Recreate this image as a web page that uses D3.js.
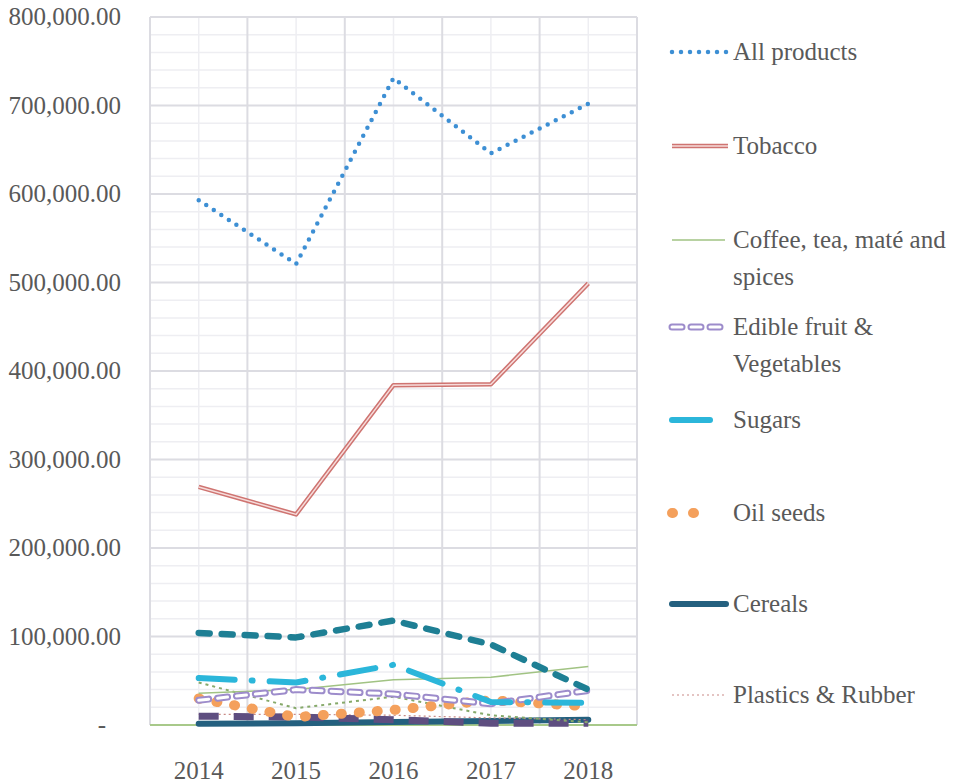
<!DOCTYPE html>
<html>
<head>
<meta charset="utf-8">
<script src="https://cdn.jsdelivr.net/npm/d3@7"></script>
<style>
  body { margin: 0; background: #fff; }
</style>
</head>
<body>
<svg width="964" height="784"></svg>
<script>
// values
const years = ["2014", "2015", "2016", "2017", "2018"];
const yTicks = [0, 100000, 200000, 300000, 400000, 500000, 600000, 700000, 800000];

const allProducts = [593000, 521000, 731000, 646000, 702000];
const tobacco = [269000, 238000, 384000, 385000, 499000];
const coffee = [36000, 40000, 51000, 54000, 66000];
const edibleFruit = [28000, 40000, 35000, 24000, 39000];
const sugars = [53000, 48000, 68000, 26000, 25000];
const oilSeeds = [30000, 9000, 17000, 28000, 21000];
const cereals = [1500, 2000, 3500, 4500, 6000];
const plastics = [12000, 12000, 11000, 8000, 6000];
// series without a visible legend entry
const tealDashed = [104000, 99000, 118000, 91000, 40000];
const greenDotted = [48000, 19000, 32000, 11000, 3000];
const purpleDashed = [10000, 9000, 6000, 2000, 2000];

const FONT = '"Liberation Serif"';
const svg = d3.select("svg");
const pLeft = 150, pRight = 637, pTop = 17, pBottom = 725;

const x = d3.scaleBand().domain(years).range([pLeft, pRight]);
const xc = d => x(d) + x.bandwidth() / 2;
const y = d3.scaleLinear().domain([0, 800000]).range([pBottom, pTop]);

// minor grid
const minor = d3.range(0, 800001, 20000).filter(v => v % 100000 !== 0);
svg.append("g").selectAll("line").data(minor).enter().append("line")
  .attr("x1", pLeft).attr("x2", pRight)
  .attr("y1", d => y(d)).attr("y2", d => y(d))
  .attr("stroke", "#eeeef2").attr("stroke-width", 1.5);
svg.append("g").selectAll("line").data(years).enter().append("line")
  .attr("x1", xc).attr("x2", xc)
  .attr("y1", pTop).attr("y2", pBottom)
  .attr("stroke", "#eeeef2").attr("stroke-width", 1.5);

// major grid
svg.append("g").selectAll("line").data(yTicks.slice(1)).enter().append("line")
  .attr("x1", pLeft).attr("x2", pRight)
  .attr("y1", d => y(d)).attr("y2", d => y(d))
  .attr("stroke", "#dcdce2").attr("stroke-width", 2);
svg.append("g").selectAll("line").data(years.concat(["end"])).enter().append("line")
  .attr("x1", (d, i) => pLeft + i * x.bandwidth()).attr("x2", (d, i) => pLeft + i * x.bandwidth())
  .attr("y1", pTop).attr("y2", pBottom)
  .attr("stroke", "#dcdce2").attr("stroke-width", 2);

// baseline
svg.append("line")
  .attr("x1", pLeft).attr("x2", pRight).attr("y1", pBottom).attr("y2", pBottom)
  .attr("stroke", "#a8c98a").attr("stroke-width", 2);

// axis labels
svg.append("g").selectAll("text").data(yTicks).enter().append("text")
  .attr("x", d => d === 0 ? 106 : 121)
  .attr("y", d => y(d) + 8)
  .attr("text-anchor", "end")
  .attr("font-size", 25)
  .attr("fill", "#595959")
  .style("font-family", FONT)
  .text(d => d === 0 ? "-" : d3.format(",.2f")(d));

svg.append("g").selectAll("text").data(years).enter().append("text")
  .attr("x", xc).attr("y", 779)
  .attr("text-anchor", "middle")
  .attr("font-size", 25)
  .attr("fill", "#595959")
  .style("font-family", FONT)
  .text(d => d);

const line = d3.line().x((d, i) => xc(years[i])).y(d => y(d));

// each layer: stroke, width, dash, cap
const series = [
  { values: cereals, layers: [{ c: "#24607f", w: 6, cap: "round" }] },
  { values: plastics, layers: [{ c: "#c98a86", w: 1.2, dash: "2 3" }] },
  { values: purpleDashed, layers: [{ c: "#5e4e80", w: 7, dash: "20 15" }] },
  { values: greenDotted, layers: [{ c: "#86a96a", w: 2, dash: "3 4" }] },
  { values: oilSeeds, layers: [{ c: "#f4a05c", w: 10, dash: "1 17", cap: "round" }] },
  { values: coffee, layers: [{ c: "#a1c383", w: 1.5 }] },
  { values: edibleFruit, layers: [
      { c: "#9d8ccb", w: 7, dash: "10 9", cap: "round" },
      { c: "#ffffff", w: 3, dash: "10 9", cap: "round" }] },
  { values: sugars, layers: [{ c: "#2bb6da", w: 6, dash: "36 17 1 17", cap: "round" }] },
  { values: tealDashed, layers: [{ c: "#1e7f94", w: 6.5, dash: "11 12", cap: "round" }] },
  { values: tobacco, layers: [
      { c: "#cf7471", w: 4.5 },
      { c: "#f6dcdb", w: 1.5 }] },
  { values: allProducts, layers: [{ c: "#3d8fd4", w: 4.5, dash: "0 9", cap: "round" }] }
];

series.forEach(s => {
  s.layers.forEach(l => {
    svg.append("path")
      .datum(s.values)
      .attr("d", line)
      .attr("fill", "none")
      .attr("stroke", l.c)
      .attr("stroke-width", l.w)
      .attr("stroke-dasharray", l.dash || null)
      .attr("stroke-linecap", l.cap || "butt")
      .attr("stroke-linejoin", "round");
  });
});

// legend
const legend = [
  { name: ["All products"], y: 52, x2: 728, layers: series[10].layers },
  { name: ["Tobacco"], y: 146, x2: 728, layers: series[9].layers },
  { name: ["Coffee, tea, maté and", "spices"], y: 240, x2: 725, layers: series[5].layers },
  { name: ["Edible fruit &", "Vegetables"], y: 327, x2: 725, layers: series[6].layers },
  { name: ["Sugars"], y: 420, x2: 710, layers: [{ c: "#2bb6da", w: 6, cap: "round" }] },
  { name: ["Oil seeds"], y: 513, x2: 713, layers: [{ c: "#f4a05c", w: 10, dash: "1 20", cap: "round" }] },
  { name: ["Cereals"], y: 604, x2: 726, layers: series[0].layers },
  { name: ["Plastics & Rubber"], y: 695, x2: 724, layers: series[1].layers }
];

const lg = svg.append("g").selectAll("g").data(legend).enter().append("g");
lg.each(function(d) {
  const g = d3.select(this);
  d.layers.forEach(l => {
    g.append("line")
      .attr("x1", 672).attr("x2", d.x2)
      .attr("y1", d.y).attr("y2", d.y)
      .attr("stroke", l.c)
      .attr("stroke-width", l.w)
      .attr("stroke-dasharray", l.dash || null)
      .attr("stroke-linecap", l.cap || "butt");
  });
  d.name.forEach((t, i) => {
    g.append("text")
      .attr("x", 733).attr("y", d.y + 8 + i * 37)
      .attr("font-size", 25)
      .attr("fill", "#595959")
      .style("font-family", FONT)
      .text(t);
  });
});
</script>
</body>
</html>
